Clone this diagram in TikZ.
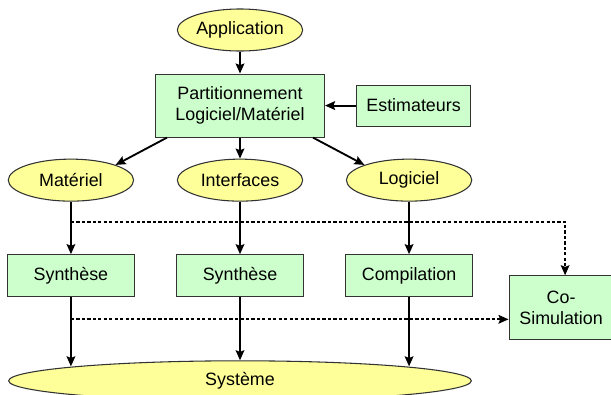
\documentclass[tikz,border=0pt]{standalone}
\usepackage{fontspec}
\setmainfont{Liberation Sans}
\usepackage{xcolor}
\usepackage{tikz}
\usetikzlibrary{arrows.meta,positioning,shapes.geometric,calc}
\definecolor{paleyellow}{RGB}{255,255,153}
\definecolor{palegreen}{RGB}{204,255,204}
\definecolor{edgegray}{RGB}{51,51,51}

\begin{document}
\begin{tikzpicture}[
    x=0.75pt, y=-0.75pt,
    node distance=16.5pt and 32pt,
    font=\fontsize{13.4pt}{15.5pt}\selectfont,
    phase/.style={draw=edgegray, line width=0.8pt, ellipse, fill=paleyellow, inner sep=0pt,
                minimum width=94pt, minimum height=31.5pt, align=center},
    stepbox/.style={draw=edgegray, line width=0.8pt, rectangle, fill=palegreen, inner sep=0pt,
                minimum width=95.25pt, minimum height=31.5pt, align=center},
    arr/.style={-{Stealth[length=7.5pt,width=6.5pt,inset=1.2pt]}, line width=1.4pt, black},
    dotArr/.style={-{Stealth[length=7.5pt,width=6.5pt,inset=1.2pt]}, line width=1.4pt, black,
                dash pattern=on 2.4pt off 1.7pt}
]
\useasboundingbox (0,0) rectangle (611,394);
\node[phase] (app) at (240,30) {Application};
\node[stepbox, below=of app, minimum width=126.75pt, minimum height=47.25pt] (part) {Partitionnement\\Logiciel/Matériel};
\node[stepbox, right=23.25pt of part, minimum width=85.5pt, minimum height=30.75pt] (est) {Estimateurs};
\node[phase, below=15.75pt of part] (intf) {Interfaces};
\node[phase, left=of intf] (mat) {Matériel};
\node[phase, right=of intf] (logi) {Logiciel};
\node[stepbox, below=39.4pt of mat] (syn1) {Synthèse};
\node[stepbox, below=39.4pt of intf] (syn2) {Synthèse};
\node[stepbox, below=39.4pt of logi] (comp) {Compilation};
\node[stepbox, below right=-16.5pt and 26.6pt of comp, minimum width=78pt, minimum height=48pt] (cosim) {Co-\\Simulation};
\node[phase, below=47.25pt of syn2, minimum width=347pt, minimum height=30pt] (sys) {Système};

\draw[arr] (app) -- (part);
\draw[arr] (est) -- (part);
\draw[arr] ([xshift=9pt]part.south west) -- (mat.north east);
\draw[arr] (part) -- (intf);
\draw[arr] ([xshift=-9pt]part.south east) -- (logi.north west);
\draw[arr] (mat) -- (syn1);
\draw[arr] (intf) -- (syn2);
\draw[arr] (logi) -- (comp);
\draw[arr] (syn1.south) -- (syn1.south |- sys.175);
\draw[arr] (syn2) -- (sys);
\draw[arr] (comp.south) -- (comp.south |- sys.5);
% co-simulation feeds
\coordinate (hwtap) at ($(mat.south)!0.38!(syn1.north)$);
\coordinate (systap) at ($(syn1.south)!0.35!(syn1.south |- sys.north)$);
\draw[dotArr] (hwtap) -| ([xshift=3pt]cosim.north);
\draw[dotArr] (systap) -- (systap -| cosim.west);
\end{tikzpicture}
\end{document}
